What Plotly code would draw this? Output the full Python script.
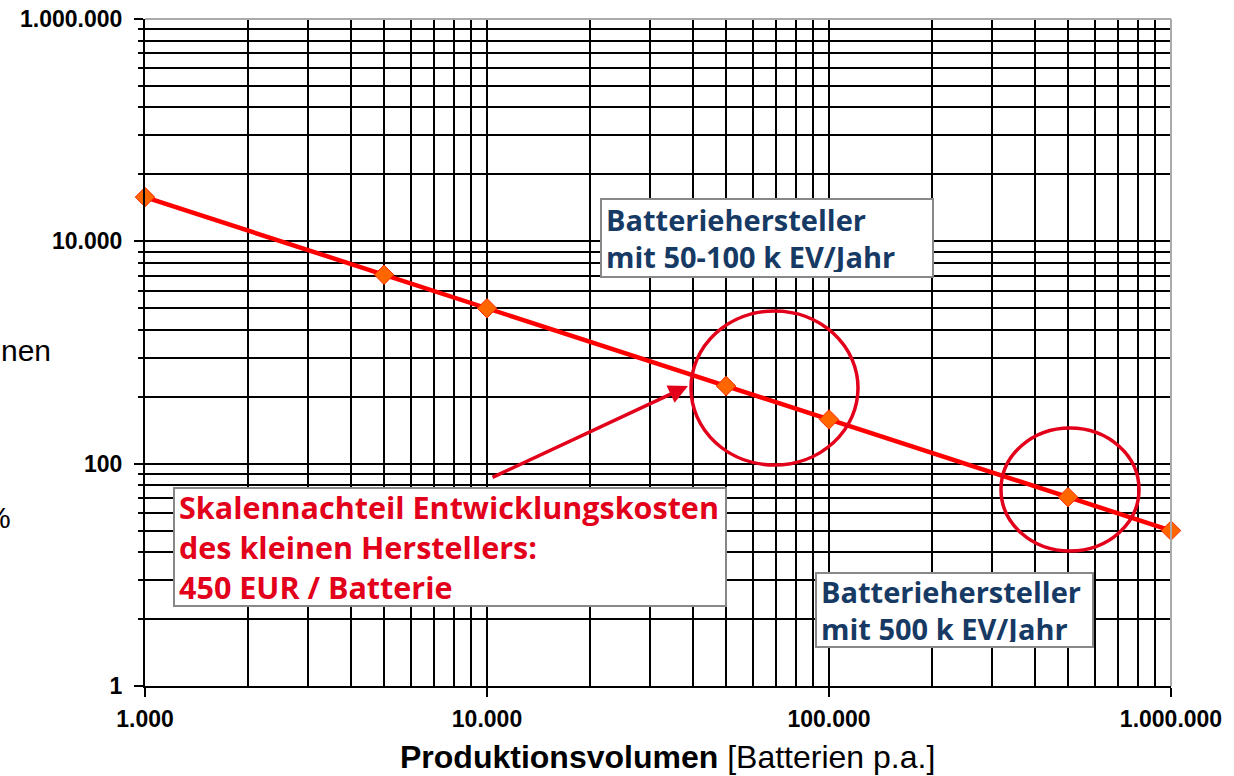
import plotly.graph_objects as go

# ---- data ----
volume = [1000, 5000, 10000, 50000, 100000, 500000, 1000000]
cost = [25000, 5000, 2500, 500, 250, 50, 25]

x_major = [1000, 10000, 100000, 1000000]
x_labels = ["1.000", "10.000", "100.000", "1.000.000"]
y_major = [1, 100, 10000, 1000000]
y_labels = ["1", "100", "10.000", "1.000.000"]

x_title = "<b>Produktionsvolumen</b> [Batterien p.a.]"
box1_text = "Batteriehersteller<br>mit 50-100 k EV/Jahr"
box2_text = "Batteriehersteller<br>mit 500 k EV/Jahr"
box3_text = "Skalennachteil Entwicklungskosten<br>des kleinen Herstellers:<br>450 EUR / Batterie"

# minor grid: x at 2..9 per decade, y (base-100 axis) at k^2 per 2 decades
x_minor = [k * m for m in x_major[:-1] for k in range(2, 10)]
y_minor = [k * k * m for m in y_major[:-1] for k in range(2, 10)]

W, H = 1234, 776
L, R, T, B = 145, 1171, 19, 686  # plot area in page pixels


def px(X):
    return (X - L) / (R - L)


def py(Y):
    return (B - Y) / (B - T)


NAVY = "#173A64"
CRIMSON = "#E2001A"
EPS = 1e-6

fig = go.Figure()
fig.add_trace(go.Scatter(
    x=volume, y=cost, mode="lines+markers",
    line=dict(color="#FF0000", width=4.5),
    marker=dict(symbol="diamond", size=15, color="#FF6600",
                line=dict(color="#FF2A00", width=1)),
    showlegend=False, cliponaxis=False,
))

axis_common = dict(
    type="log", showline=True, linecolor="black", linewidth=2,
    gridcolor="black", gridwidth=1.8, ticks="outside", tickcolor="black",
    tickwidth=1.8, zeroline=False, automargin=False,
)
tick_font = dict(family="Liberation Sans, Arial", size=23, color="black", weight="bold")

fig.update_xaxes(
    **axis_common, range=[3 - EPS, 6 + EPS], tickvals=x_major, ticktext=x_labels, ticklen=9,
    tickfont=tick_font, ticklabelstandoff=2,
    minor=dict(tickvals=x_minor, showgrid=True, gridcolor="black", gridwidth=1.8, ticks=""),
)
fig.update_yaxes(
    **axis_common, range=[0 - EPS, 6 + EPS], tickvals=y_major, ticktext=y_labels, ticklen=9,
    tickfont=tick_font, ticklabelstandoff=7,
    minor=dict(tickvals=y_minor, showgrid=True, gridcolor="black", gridwidth=1.8,
               ticks="outside", ticklen=5, tickcolor="black"),
)

# grey top/right frame
fig.add_shape(type="line", xref="paper", yref="paper", x0=0, x1=1, y0=1, y1=1,
              line=dict(color="#AAAAAA", width=2), layer="above")
fig.add_shape(type="line", xref="paper", yref="paper", x0=1, x1=1, y0=0, y1=1,
              line=dict(color="#AAAAAA", width=2), layer="above")

# circles
fig.add_shape(type="circle", xref="paper", yref="paper",
              x0=px(691), x1=px(858), y0=py(465), y1=py(311),
              line=dict(color=CRIMSON, width=3.5), layer="above")
fig.add_shape(type="circle", xref="paper", yref="paper",
              x0=px(1001), x1=px(1139), y0=py(551), y1=py(428),
              line=dict(color=CRIMSON, width=3.5), layer="above")

# arrow
fig.add_annotation(xref="paper", yref="paper", x=px(688), y=py(386),
                   ax=491 - 688, ay=478 - 386, axref="pixel", ayref="pixel",
                   text="", showarrow=True, arrowhead=2, arrowsize=1.1,
                   arrowwidth=3.5, arrowcolor=CRIMSON)


# text boxes
def box(text, x0, y0, x1, y1, color, family, size):
    bp, bw = 4, 2
    fig.add_annotation(
        xref="paper", yref="paper", x=px(x0), y=py(y0), xanchor="left", yanchor="top",
        text=text, showarrow=False, align="left", valign="middle",
        width=(x1 - x0) - 2 * bp - 2 * bw, height=(y1 - y0) - 2 * bp - 2 * bw,
        bgcolor="white", bordercolor="#888888", borderwidth=bw, borderpad=bp,
        font=dict(family=family, size=size, color=color, weight="bold"),
    )


box(box1_text, 600, 198, 934, 278, NAVY, "Open Sans", 29)
box(box2_text, 815, 572, 1094, 648, NAVY, "Open Sans", 29)
box(box3_text, 173, 487, 727, 607, CRIMSON, "Open Sans", 30.5)

# axis title
fig.add_annotation(xref="paper", yref="paper", x=px(667), y=py(757), xanchor="center",
                   yanchor="middle", text=x_title, showarrow=False,
                   font=dict(family="Liberation Sans, Arial", size=32, color="black"))

# cut-off left text
fig.add_annotation(xref="paper", yref="paper", x=px(53), y=py(350), xanchor="right",
                   yanchor="middle", text="nen", showarrow=False,
                   font=dict(family="Liberation Sans, Arial", size=30, color="black"))
fig.add_annotation(xref="paper", yref="paper", x=px(13), y=py(517), xanchor="right",
                   yanchor="middle", text="%", showarrow=False,
                   font=dict(family="Liberation Sans, Arial", size=30, color="black"))

fig.update_layout(
    width=W, height=H,
    margin=dict(l=L, r=W - R, t=T, b=H - B),
    plot_bgcolor="white", paper_bgcolor="white",
)

fig.write_html("out.html", config={"displayModeBar": False},
               post_script="document.body.style.margin='0';")
